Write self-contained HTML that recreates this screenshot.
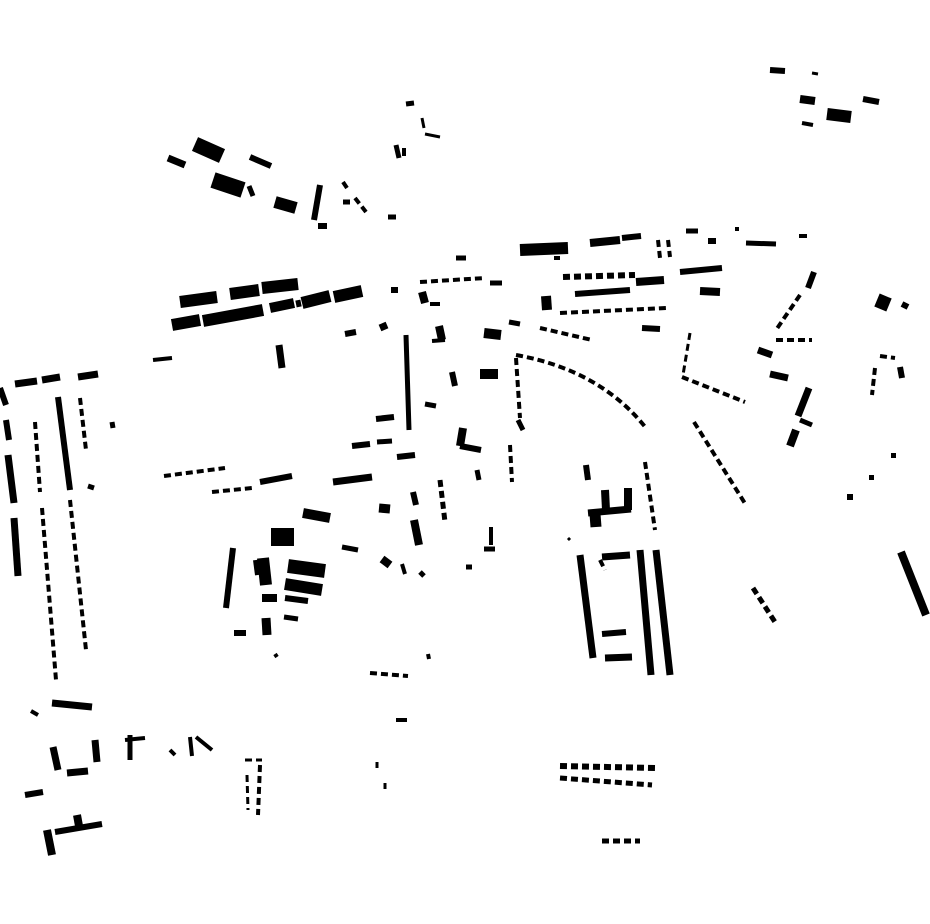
<!DOCTYPE html>
<html><head><meta charset="utf-8"><style>
html,body{margin:0;padding:0;background:#fff;width:930px;height:924px;overflow:hidden}
svg{display:block}
</style></head><body>
<svg width="930" height="924" viewBox="0 0 930 924" xmlns="http://www.w3.org/2000/svg">
<g stroke="#000" fill="none" stroke-linecap="butt">
<g>
<line x1="770" y1="70" x2="785" y2="71" stroke-width="6"/>
<line x1="812" y1="73" x2="818" y2="74" stroke-width="3"/>
<line x1="800" y1="99" x2="815" y2="101" stroke-width="8"/>
<line x1="827" y1="114" x2="851" y2="117" stroke-width="12"/>
<line x1="863" y1="99" x2="879" y2="102" stroke-width="6"/>
<line x1="802" y1="123" x2="813" y2="125" stroke-width="4"/>
<line x1="195" y1="144" x2="222" y2="156" stroke-width="15"/>
<line x1="168" y1="158" x2="185" y2="165" stroke-width="7"/>
<line x1="250" y1="157" x2="271" y2="166" stroke-width="6"/>
<line x1="213" y1="180" x2="243" y2="190" stroke-width="16"/>
<line x1="249" y1="186" x2="253" y2="196" stroke-width="5"/>
<line x1="275" y1="202" x2="296" y2="208" stroke-width="12"/>
<line x1="320" y1="185" x2="314" y2="220" stroke-width="6"/>
<line x1="318" y1="226" x2="327" y2="226" stroke-width="6"/>
<line x1="343" y1="182" x2="347" y2="188" stroke-width="4"/>
<line x1="343" y1="202" x2="350" y2="202" stroke-width="5"/>
<line x1="388" y1="217" x2="396" y2="217" stroke-width="5"/>
<line x1="406" y1="104" x2="414" y2="103" stroke-width="5"/>
<line x1="422" y1="118" x2="424" y2="128" stroke-width="3"/>
<line x1="425" y1="134" x2="440" y2="137" stroke-width="3"/>
<line x1="396" y1="145" x2="399" y2="158" stroke-width="5"/>
<line x1="180" y1="302" x2="217" y2="297" stroke-width="12"/>
<line x1="230" y1="294" x2="259" y2="290" stroke-width="12"/>
<line x1="262" y1="288" x2="298" y2="284" stroke-width="12"/>
<line x1="172" y1="325" x2="200" y2="320" stroke-width="12"/>
<line x1="203" y1="321" x2="263" y2="310" stroke-width="12"/>
<line x1="270" y1="308" x2="294" y2="303" stroke-width="10"/>
<line x1="296" y1="304" x2="301" y2="303" stroke-width="7"/>
<line x1="302" y1="303" x2="330" y2="296" stroke-width="12"/>
<line x1="334" y1="297" x2="362" y2="291" stroke-width="12"/>
<line x1="279" y1="345" x2="282" y2="368" stroke-width="7"/>
<line x1="153" y1="360" x2="172" y2="358" stroke-width="4"/>
<line x1="345" y1="334" x2="356" y2="332" stroke-width="6"/>
<line x1="380" y1="328" x2="387" y2="325" stroke-width="7"/>
<line x1="391" y1="290" x2="398" y2="290" stroke-width="6"/>
<line x1="490" y1="283" x2="502" y2="283" stroke-width="5"/>
<line x1="422" y1="292" x2="425" y2="303" stroke-width="8"/>
<line x1="430" y1="304" x2="440" y2="304" stroke-width="4"/>
<line x1="439" y1="326" x2="442" y2="340" stroke-width="8"/>
<line x1="432" y1="341" x2="445" y2="340" stroke-width="4"/>
<line x1="484" y1="333" x2="501" y2="335" stroke-width="10"/>
<line x1="509" y1="322" x2="520" y2="324" stroke-width="5"/>
<line x1="520" y1="250" x2="568" y2="248" stroke-width="12"/>
<line x1="590" y1="243" x2="620" y2="240" stroke-width="8"/>
<line x1="622" y1="238" x2="641" y2="236" stroke-width="6"/>
<line x1="456" y1="258" x2="466" y2="258" stroke-width="5"/>
<line x1="554" y1="258" x2="560" y2="258" stroke-width="4"/>
<line x1="546" y1="296" x2="547" y2="310" stroke-width="10"/>
<line x1="575" y1="294" x2="630" y2="290" stroke-width="6"/>
<line x1="636" y1="282" x2="664" y2="280" stroke-width="8"/>
<line x1="642" y1="328" x2="660" y2="329" stroke-width="6"/>
<line x1="680" y1="272" x2="722" y2="268" stroke-width="6"/>
<line x1="686" y1="231" x2="698" y2="231" stroke-width="5"/>
<line x1="708" y1="241" x2="716" y2="241" stroke-width="6"/>
<line x1="746" y1="243" x2="776" y2="244" stroke-width="5"/>
<line x1="799" y1="236" x2="807" y2="236" stroke-width="4"/>
<line x1="700" y1="291" x2="720" y2="292" stroke-width="8"/>
<line x1="814" y1="272" x2="808" y2="288" stroke-width="6"/>
<line x1="758" y1="350" x2="772" y2="355" stroke-width="7"/>
<line x1="770" y1="374" x2="788" y2="378" stroke-width="7"/>
<line x1="809" y1="388" x2="798" y2="416" stroke-width="7"/>
<line x1="800" y1="420" x2="812" y2="425" stroke-width="5"/>
<line x1="796" y1="430" x2="790" y2="446" stroke-width="8"/>
<line x1="877" y1="300" x2="889" y2="305" stroke-width="14"/>
<line x1="902" y1="304" x2="908" y2="307" stroke-width="6"/>
<line x1="900" y1="367" x2="902" y2="378" stroke-width="6"/>
<line x1="901" y1="552" x2="926" y2="615" stroke-width="8"/>
<line x1="406" y1="335" x2="409" y2="430" stroke-width="5"/>
<line x1="376" y1="419" x2="394" y2="417" stroke-width="6"/>
<line x1="352" y1="446" x2="370" y2="444" stroke-width="6"/>
<line x1="377" y1="442" x2="392" y2="441" stroke-width="5"/>
<line x1="397" y1="457" x2="415" y2="455" stroke-width="6"/>
<line x1="425" y1="404" x2="436" y2="406" stroke-width="5"/>
<line x1="452" y1="372" x2="455" y2="386" stroke-width="6"/>
<line x1="480" y1="374" x2="498" y2="374" stroke-width="10"/>
<line x1="463" y1="428" x2="460" y2="446" stroke-width="8"/>
<line x1="460" y1="446" x2="481" y2="450" stroke-width="6"/>
<line x1="477" y1="470" x2="479" y2="480" stroke-width="5"/>
<line x1="518" y1="420" x2="523" y2="430" stroke-width="5"/>
<line x1="333" y1="482" x2="372" y2="477" stroke-width="7"/>
<line x1="260" y1="482" x2="292" y2="476" stroke-width="6"/>
<line x1="303" y1="513" x2="330" y2="518" stroke-width="10"/>
<line x1="271" y1="537" x2="294" y2="537" stroke-width="18"/>
<line x1="342" y1="547" x2="358" y2="550" stroke-width="5"/>
<line x1="379" y1="508" x2="390" y2="509" stroke-width="9"/>
<line x1="413" y1="492" x2="416" y2="505" stroke-width="6"/>
<line x1="414" y1="520" x2="419" y2="545" stroke-width="8"/>
<line x1="491" y1="527" x2="491" y2="545" stroke-width="4"/>
<line x1="484" y1="549" x2="495" y2="549" stroke-width="5"/>
<line x1="382" y1="559" x2="390" y2="565" stroke-width="8"/>
<line x1="402" y1="564" x2="405" y2="574" stroke-width="4"/>
<line x1="420" y1="572" x2="424" y2="576" stroke-width="5"/>
<line x1="466" y1="567" x2="472" y2="567" stroke-width="5"/>
<line x1="233" y1="548" x2="226" y2="608" stroke-width="6"/>
<line x1="263" y1="558" x2="266" y2="585" stroke-width="12"/>
<line x1="256" y1="560" x2="258" y2="575" stroke-width="6"/>
<line x1="288" y1="566" x2="325" y2="571" stroke-width="14"/>
<line x1="285" y1="584" x2="322" y2="590" stroke-width="12"/>
<line x1="262" y1="598" x2="277" y2="598" stroke-width="8"/>
<line x1="285" y1="598" x2="308" y2="601" stroke-width="6"/>
<line x1="284" y1="617" x2="298" y2="619" stroke-width="5"/>
<line x1="266" y1="618" x2="267" y2="635" stroke-width="9"/>
<line x1="234" y1="633" x2="246" y2="633" stroke-width="6"/>
<line x1="586" y1="465" x2="588" y2="480" stroke-width="6"/>
<line x1="605" y1="490" x2="606" y2="510" stroke-width="8"/>
<line x1="628" y1="488" x2="628" y2="510" stroke-width="8"/>
<line x1="588" y1="513" x2="631" y2="509" stroke-width="7"/>
<line x1="595" y1="514" x2="596" y2="527" stroke-width="11"/>
<line x1="580" y1="555" x2="593" y2="658" stroke-width="7"/>
<line x1="602" y1="557" x2="630" y2="555" stroke-width="7"/>
<line x1="640" y1="550" x2="651" y2="675" stroke-width="7"/>
<line x1="656" y1="550" x2="670" y2="675" stroke-width="7"/>
<line x1="602" y1="634" x2="626" y2="632" stroke-width="6"/>
<line x1="605" y1="658" x2="632" y2="657" stroke-width="7"/>
<line x1="0" y1="388" x2="6" y2="405" stroke-width="6"/>
<line x1="15" y1="384" x2="37" y2="381" stroke-width="7"/>
<line x1="42" y1="380" x2="60" y2="377" stroke-width="7"/>
<line x1="78" y1="377" x2="98" y2="374" stroke-width="7"/>
<line x1="6" y1="420" x2="9" y2="440" stroke-width="6"/>
<line x1="8" y1="455" x2="14" y2="503" stroke-width="7"/>
<line x1="14" y1="518" x2="18" y2="576" stroke-width="7"/>
<line x1="58" y1="397" x2="70" y2="490" stroke-width="6"/>
<line x1="88" y1="486" x2="94" y2="488" stroke-width="5"/>
<line x1="112" y1="422" x2="113" y2="428" stroke-width="5"/>
<line x1="52" y1="703" x2="92" y2="707" stroke-width="7"/>
<line x1="31" y1="711" x2="38" y2="715" stroke-width="4"/>
<line x1="53" y1="747" x2="58" y2="770" stroke-width="7"/>
<line x1="67" y1="773" x2="88" y2="771" stroke-width="7"/>
<line x1="95" y1="740" x2="97" y2="762" stroke-width="7"/>
<line x1="25" y1="795" x2="43" y2="792" stroke-width="6"/>
<line x1="47" y1="830" x2="52" y2="855" stroke-width="8"/>
<line x1="55" y1="832" x2="102" y2="824" stroke-width="6"/>
<line x1="77" y1="815" x2="79" y2="826" stroke-width="8"/>
<line x1="125" y1="740" x2="145" y2="738" stroke-width="4"/>
<line x1="130" y1="735" x2="130" y2="760" stroke-width="5"/>
<line x1="170" y1="750" x2="175" y2="755" stroke-width="4"/>
<line x1="190" y1="737" x2="192" y2="756" stroke-width="4"/>
<line x1="196" y1="737" x2="212" y2="750" stroke-width="4"/>
<line x1="396" y1="720" x2="407" y2="720" stroke-width="4"/>
<line x1="428" y1="654" x2="429" y2="659" stroke-width="4"/>
<line x1="377" y1="762" x2="377" y2="768" stroke-width="3"/>
<line x1="385" y1="783" x2="385" y2="789" stroke-width="3"/>
<line x1="275" y1="654" x2="277" y2="657" stroke-width="4"/>
<line x1="568" y1="538" x2="570" y2="540" stroke-width="3"/>
</g>
<g stroke-dasharray="7 4">
<line x1="420" y1="282" x2="485" y2="278" stroke-width="4"/>
<line x1="563" y1="277" x2="635" y2="275" stroke-width="6"/>
<line x1="560" y1="313" x2="666" y2="308" stroke-width="4"/>
<line x1="540" y1="328" x2="592" y2="340" stroke-width="4"/>
<line x1="658" y1="240" x2="660" y2="258" stroke-width="4"/>
<line x1="668" y1="240" x2="670" y2="257" stroke-width="4"/>
<line x1="800" y1="295" x2="776" y2="330" stroke-width="4"/>
<line x1="776" y1="340" x2="812" y2="340" stroke-width="4"/>
<line x1="690" y1="333" x2="683" y2="375" stroke-width="3"/>
<line x1="682" y1="377" x2="745" y2="402" stroke-width="4"/>
<line x1="880" y1="356" x2="895" y2="358" stroke-width="4"/>
<line x1="875" y1="368" x2="872" y2="395" stroke-width="4"/>
<line x1="753" y1="588" x2="775" y2="622" stroke-width="5"/>
<line x1="694" y1="422" x2="746" y2="505" stroke-width="4"/>
<path d="M516 355 Q600 370 646 428" stroke-width="4"/>
<line x1="516" y1="358" x2="520" y2="418" stroke-width="4"/>
<line x1="510" y1="445" x2="512" y2="482" stroke-width="4"/>
<line x1="164" y1="476" x2="225" y2="468" stroke-width="4"/>
<line x1="212" y1="492" x2="252" y2="488" stroke-width="4"/>
<line x1="440" y1="480" x2="445" y2="522" stroke-width="5"/>
<line x1="645" y1="462" x2="655" y2="530" stroke-width="4"/>
<line x1="600" y1="560" x2="605" y2="570" stroke-width="4"/>
<line x1="35" y1="422" x2="40" y2="492" stroke-width="4"/>
<line x1="80" y1="398" x2="86" y2="450" stroke-width="4"/>
<line x1="42" y1="508" x2="56" y2="680" stroke-width="4"/>
<line x1="70" y1="500" x2="86" y2="650" stroke-width="4"/>
<line x1="245" y1="760" x2="262" y2="760" stroke-width="3"/>
<line x1="260" y1="765" x2="258" y2="815" stroke-width="4"/>
<line x1="247" y1="775" x2="248" y2="810" stroke-width="3"/>
<line x1="370" y1="673" x2="408" y2="676" stroke-width="4"/>
<line x1="560" y1="766" x2="655" y2="768" stroke-width="6"/>
<line x1="560" y1="778" x2="652" y2="785" stroke-width="5"/>
<line x1="602" y1="841" x2="640" y2="841" stroke-width="5"/>
<line x1="355" y1="198" x2="366" y2="212" stroke-width="4"/>
</g>
<g fill="#000" stroke="none">
<rect x="735" y="227" width="4" height="4"/>
<rect x="891" y="453" width="5" height="5"/>
<rect x="869" y="475" width="5" height="5"/>
<rect x="847" y="494" width="6" height="6"/>
<rect x="402" y="148" width="4" height="8"/>
</g>
</g>
</svg>
</body></html>
